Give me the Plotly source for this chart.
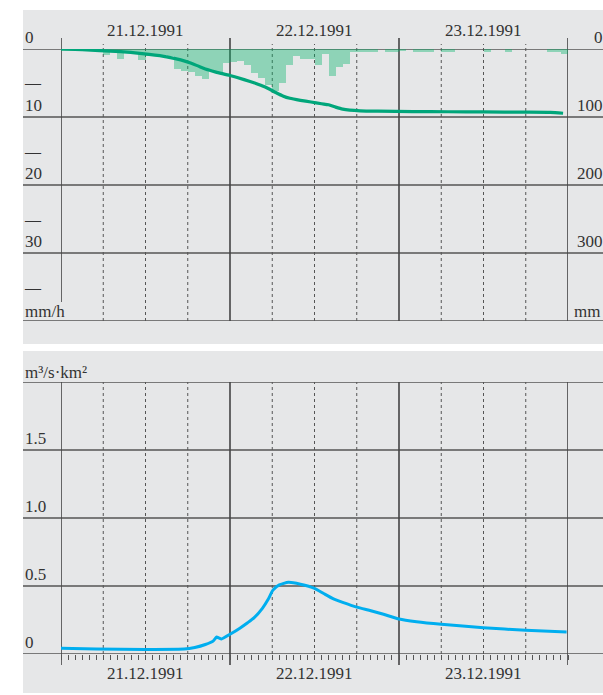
import plotly.graph_objects as go

# ---------------- data ----------------
hours = list(range(72))  # hourly bins 0..71 starting 21.12.1991 00:00
precip_mm_h = [0.3, 0.3, 0.2, 0.3, 0.3, 0.3, 0.9, 0.3, 1.5, 0.6,
               0.6, 1.6, 1.0, 0.9, 0.9, 1.0, 3.0, 3.2, 3.4, 4.0,
               4.4, 3.2, 3.5, 2.0, 1.9, 1.8, 2.4, 3.6, 4.2, 5.3,
               6.2, 5.0, 2.4, 1.1, 1.5, 1.5, 2.3, 0.7, 3.9, 2.6,
               2.2, 0.5, 0.4, 0.4, 0.4, 0.0, 0.4, 0.4, 0.3, 0.0,
               0.5, 0.5, 0.5, 0.0, 0.5, 0.5, 0.0, 0.0, 0.0, 0.0,
               0.4, 0.0, 0.0, 0.4, 0.0, 0.0, 0.0, 0.0, 0.0, 0.4,
               0.4, 0.7]

cum_hours = [0, 3, 5.5, 8.5, 10.5, 12.5, 15, 17, 18.5, 19.7, 21, 22, 24, 26,
             27.5, 29, 30.5, 31.5, 32.5, 34, 35.5, 37, 38, 39, 40, 41, 42.5,
             45, 50, 55, 60, 66, 69.5, 71.3]
cum_mm = [0, 1, 2.3, 4, 5.8, 8, 11.5, 16, 21, 26, 31, 34, 39, 45,
          50, 56, 64, 69, 72.5, 75.5, 78, 80.5, 82, 85.5, 88.5, 90, 91,
          91.5, 92, 92.3, 92.6, 92.9, 93.3, 94.5]

q_hours = [0, 5, 12, 17.5, 19, 20.5, 21.6, 22.1, 22.4, 22.8, 24, 25.4, 26.5,
           27.4, 28.6, 29.4, 30.1, 31, 32.3, 34, 36, 37.3, 38.7, 40, 42, 44,
           45.8, 48, 50.5, 54, 60, 66, 71.8]
q_vals = [0.042, 0.036, 0.034, 0.036, 0.048, 0.07, 0.095, 0.125, 0.118, 0.11,
          0.145, 0.19, 0.23, 0.265, 0.335, 0.40, 0.47, 0.508, 0.527, 0.513,
          0.483, 0.445, 0.405, 0.38, 0.345, 0.318, 0.292, 0.257, 0.237, 0.218,
          0.193, 0.174, 0.162]

day_labels = ["21.12.1991", "22.12.1991", "23.12.1991"]
day_starts = [0, 24, 48, 72]
quarter_hours = [6, 12, 18, 30, 36, 42, 54, 60, 66]
top_left_vals = [0, 10, 20, 30]
top_left_text = ["0", "10", "20", "30"]
top_dash_vals = [5, 15, 25, 35]
top_right_vals = [0, 100, 200, 300]
top_right_text = ["0", "100", "200", "300"]
bot_vals = [0, 0.5, 1.0, 1.5]
bot_text = ["0", "0.5", "1.0", "1.5"]

# ---------------- layout helpers ----------------
W, H = 603, 695
def px(x):
    return x / W
def py(y):
    return 1 - y / H

FONT = "Liberation Serif"
TXT = "#333333"
GRID = "#555555"
BG = "#e6e7e8"

fig = go.Figure()

fig.add_trace(go.Bar(
    x=[h + 0.5 for h in hours], y=precip_mm_h, width=1,
    marker=dict(color="rgba(0,180,102,0.38)", line=dict(width=0)),
    xaxis="x", yaxis="y", hoverinfo="skip"))

fig.add_trace(go.Scatter(
    x=cum_hours, y=cum_mm, mode="lines",
    line=dict(color="#00a67a", width=3.2, shape="spline", smoothing=0.6),
    xaxis="x", yaxis="y3"))

fig.add_trace(go.Scatter(
    x=q_hours, y=q_vals, mode="lines",
    line=dict(color="#00aeef", width=3, shape="spline", smoothing=0.5),
    xaxis="x2", yaxis="y2"))

shapes = []
# panel backgrounds
shapes.append(dict(type="rect", xref="paper", yref="paper", x0=px(23), x1=1.0,
                   y0=py(344), y1=py(10), fillcolor=BG, line=dict(width=0), layer="below"))
shapes.append(dict(type="rect", xref="paper", yref="paper", x0=px(23), x1=1.0,
                   y0=py(693), y1=py(351), fillcolor=BG, line=dict(width=0), layer="below"))
# horizontal lines
for v in [0, 10, 20, 30, 40]:
    shapes.append(dict(type="line", xref="paper", yref="y", x0=px(23), x1=1.0, y0=v, y1=v,
                       line=dict(color=GRID, width=1.3), layer="below"))
for v in [0, 0.5, 1.0, 1.5, 2.0]:
    shapes.append(dict(type="line", xref="paper", yref="y2", x0=px(23), x1=1.0, y0=v, y1=v,
                       line=dict(color=GRID, width=1.3), layer="below"))
# vertical day lines
for d in day_starts:
    shapes.append(dict(type="line", xref="x", yref="paper", x0=d, x1=d,
                       y0=py(302 if d == 0 else 321), y1=py(38),
                       line=dict(color="#444444", width=1.6), layer="below"))
    shapes.append(dict(type="line", xref="x2", yref="paper", x0=d, x1=d,
                       y0=py(665), y1=py(382),
                       line=dict(color="#444444", width=1.6), layer="below"))
# dashed 6-hour lines
for h in quarter_hours:
    shapes.append(dict(type="line", xref="x", yref="paper", x0=h, x1=h,
                       y0=py(321), y1=py(44),
                       line=dict(color=GRID, width=1, dash="3px,3px"), layer="below"))
    shapes.append(dict(type="line", xref="x2", yref="paper", x0=h, x1=h,
                       y0=py(654), y1=py(382),
                       line=dict(color=GRID, width=1, dash="3px,3px"), layer="below"))

ann = []
def txt(text, x, y, xref="paper", yref="paper", xanchor="left", yanchor="middle", size=17):
    ann.append(dict(text=text, x=x, y=y, xref=xref, yref=yref, xanchor=xanchor,
                    yanchor=yanchor, showarrow=False,
                    font=dict(family=FONT, size=size, color=TXT)))

for i, lab in enumerate(day_labels):
    txt(lab, day_starts[i] + 12, py(31), xref="x", xanchor="center")
    txt(lab, day_starts[i] + 12, py(673), xref="x2", xanchor="center")

for v, t in zip(top_left_vals, top_left_text):
    txt(t, px(23), v, yref="y", yanchor="bottom")
for v in top_dash_vals:
    txt("—", px(22), v, yref="y", yanchor="middle", size=16)
txt("mm/h", px(23), py(312))

for v, t in zip(top_right_vals, top_right_text):
    txt(t, px(605), v, yref="y3", xanchor="right", yanchor="bottom")
txt("mm", px(572), py(312))

txt("m³/s·km²", px(23), py(372))
for v, t in zip(bot_vals, bot_text):
    txt(t, px(23), v, yref="y2", yanchor="bottom")

dom_x = [px(61), px(568)]
fig.update_layout(
    width=W, height=H, autosize=False,
    margin=dict(l=0, r=0, t=0, b=0, pad=0),
    paper_bgcolor="white", plot_bgcolor="rgba(0,0,0,0)",
    showlegend=False, bargap=0,
    xaxis=dict(domain=dom_x, range=[0, 72], showgrid=False, zeroline=False,
               showticklabels=False, ticks="", anchor="y"),
    yaxis=dict(domain=[py(321), py(49)], range=[40, 0], showgrid=False, zeroline=False,
               showticklabels=False, ticks="", anchor="x"),
    yaxis3=dict(overlaying="y", range=[400, 0], showgrid=False, zeroline=False,
                showticklabels=False, ticks="", anchor="x", side="right"),
    xaxis2=dict(domain=dom_x, range=[0, 72], showgrid=False, zeroline=False,
                showticklabels=False, ticks="outside", tickmode="linear", tick0=0, dtick=1,
                ticklen=5, tickwidth=1, tickcolor=GRID, anchor="y2", showline=False),
    yaxis2=dict(domain=[py(654), py(382)], range=[0, 2], showgrid=False, zeroline=False,
                showticklabels=False, ticks="", anchor="x2"),
    shapes=shapes, annotations=ann,
)

fig.write_html("out.html", config={"displayModeBar": False},
               post_script="document.body.style.margin='0';document.body.style.overflow='hidden';")
